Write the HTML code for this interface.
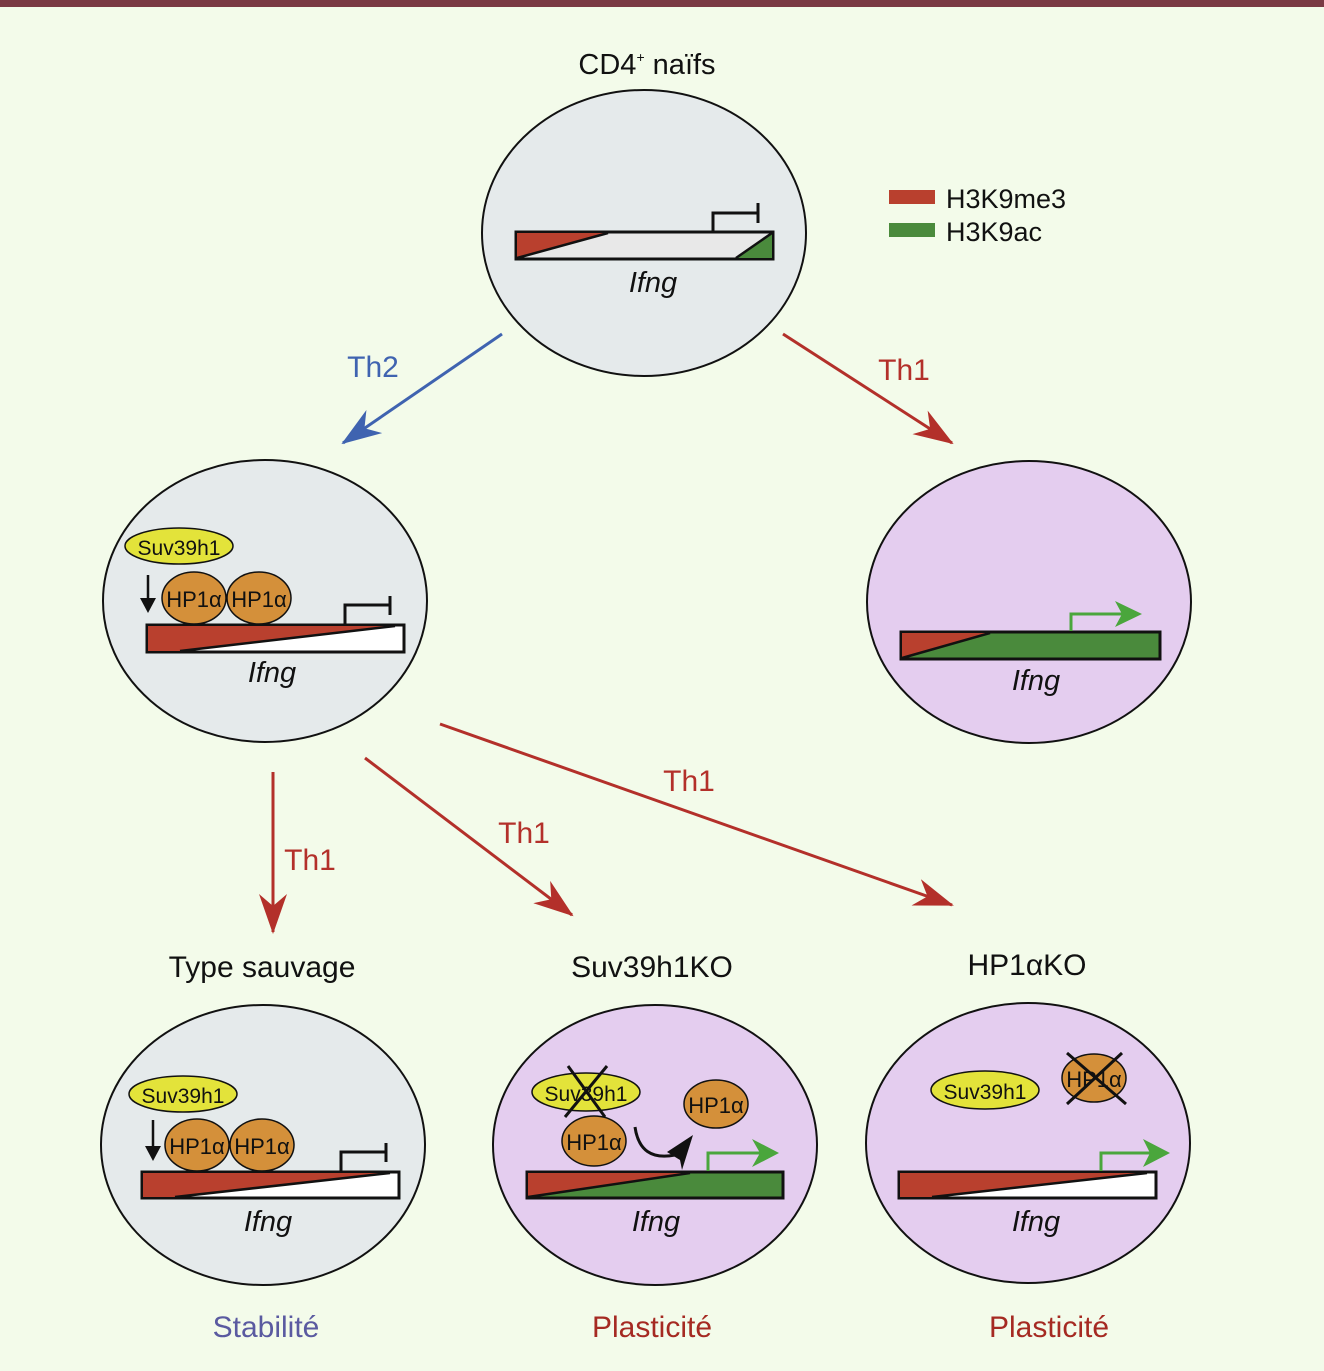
<!DOCTYPE html>
<html><head><meta charset="utf-8"><style>
html,body{margin:0;padding:0;background:#f3fbea;}
svg{display:block}
text{font-family:"Liberation Sans",sans-serif;}
</style></head><body>
<svg width="1324" height="1371" viewBox="0 0 1324 1371" xmlns="http://www.w3.org/2000/svg">
<defs>
<marker id="ar" markerWidth="40" markerHeight="28" refX="38" refY="14" orient="auto" markerUnits="userSpaceOnUse" viewBox="0 0 40 28"><path d="M0,0 L40,14 L0,28 L12,14z" fill="#b3302a"/></marker>
<marker id="ab" markerWidth="40" markerHeight="28" refX="38" refY="14" orient="auto" markerUnits="userSpaceOnUse" viewBox="0 0 40 28"><path d="M0,0 L40,14 L0,28 L12,14z" fill="#3f63b0"/></marker>
</defs>
<rect x="0" y="0" width="1324" height="1371" fill="#f3fbea"/>
<rect x="0" y="0" width="1324" height="7" fill="#7a3a44"/>

<!-- top cell -->
<text x="647" y="74" font-size="29" text-anchor="middle" fill="#111">CD4<tspan font-size="14" dy="-12">+</tspan><tspan dy="12"> naïfs</tspan></text>
<ellipse cx="644" cy="233" rx="162" ry="143" fill="#e5eaeb" stroke="#111" stroke-width="2"/>
<rect x="516" y="232" width="257" height="27" fill="#e8e8e8" stroke="#111" stroke-width="3"/>
<polygon points="517,233 608,233 517,258" fill="#b9402e"/>
<line x1="517" y1="258" x2="608" y2="233" stroke="#111" stroke-width="2.5"/>
<polygon points="772,233 772,258 736,258" fill="#4a8a3c"/>
<line x1="736" y1="258" x2="772" y2="233" stroke="#111" stroke-width="2.5"/>
<polyline points="713,232 713,213 758,213" fill="none" stroke="#111" stroke-width="3"/>
<line x1="758" y1="203" x2="758" y2="223" stroke="#111" stroke-width="3"/>
<text x="653" y="292" font-size="29" font-style="italic" text-anchor="middle" fill="#111">Ifng</text>

<!-- legend -->
<rect x="889" y="190" width="46" height="14" fill="#b9402e"/>
<rect x="889" y="223" width="46" height="14" fill="#4a8a3c"/>
<text x="946" y="208" font-size="27" fill="#111">H3K9me3</text>
<text x="946" y="241" font-size="27" fill="#111">H3K9ac</text>

<!-- arrows -->
<line x1="502" y1="334" x2="343" y2="443" stroke="#3f63b0" stroke-width="3" marker-end="url(#ab)"/>
<text x="373" y="377" font-size="30" text-anchor="middle" fill="#3f63b0">Th2</text>
<line x1="783" y1="334" x2="952" y2="443" stroke="#b3302a" stroke-width="3" marker-end="url(#ar)"/>
<text x="904" y="380" font-size="30" text-anchor="middle" fill="#b3302a">Th1</text>
<line x1="273" y1="772" x2="273" y2="932" stroke="#b3302a" stroke-width="3" marker-end="url(#ar)"/>
<text x="310" y="870" font-size="30" text-anchor="middle" fill="#b3302a">Th1</text>
<line x1="365" y1="758" x2="572" y2="915" stroke="#b3302a" stroke-width="3" marker-end="url(#ar)"/>
<text x="524" y="843" font-size="30" text-anchor="middle" fill="#b3302a">Th1</text>
<line x1="440" y1="724" x2="952" y2="905" stroke="#b3302a" stroke-width="3" marker-end="url(#ar)"/>
<text x="689" y="791" font-size="30" text-anchor="middle" fill="#b3302a">Th1</text>

<!-- Th2 cell -->
<ellipse cx="265" cy="601" rx="162" ry="141" fill="#e5eaeb" stroke="#111" stroke-width="2"/>
<rect x="147" y="625" width="257" height="27" fill="#fff" stroke="#111" stroke-width="3"/>
<polygon points="148,626 395,626 180,651 148,651" fill="#b9402e"/>
<line x1="180" y1="651" x2="395" y2="626" stroke="#111" stroke-width="2.5"/>
<polyline points="345,625 345,605 390,605" fill="none" stroke="#111" stroke-width="3"/>
<line x1="390" y1="596" x2="390" y2="615" stroke="#111" stroke-width="3"/>
<ellipse cx="179" cy="546" rx="54" ry="18" fill="#e3e33a" stroke="#111" stroke-width="1.5"/>
<text x="179" y="555" font-size="21" text-anchor="middle" fill="#111">Suv39h1</text>
<line x1="148" y1="575" x2="148" y2="600" stroke="#111" stroke-width="2.5"/>
<polygon points="140,598 156,598 148,613" fill="#111"/>
<ellipse cx="194" cy="598" rx="32" ry="26" fill="#d4903a" stroke="#111" stroke-width="1.5"/>
<ellipse cx="259" cy="598" rx="32" ry="26" fill="#d4903a" stroke="#111" stroke-width="1.5"/>
<text x="194" y="607" font-size="22" text-anchor="middle" fill="#111">HP1α</text>
<text x="259" y="607" font-size="22" text-anchor="middle" fill="#111">HP1α</text>
<text x="272" y="682" font-size="29" font-style="italic" text-anchor="middle" fill="#111">Ifng</text>

<!-- Th1 cell -->
<ellipse cx="1029" cy="602" rx="162" ry="141" fill="#e4cdef" stroke="#111" stroke-width="2"/>
<rect x="901" y="632" width="259" height="27" fill="#4a8a3c" stroke="#111" stroke-width="3"/>
<polygon points="902,633 990,633 902,658" fill="#b9402e"/>
<line x1="902" y1="658" x2="990" y2="633" stroke="#111" stroke-width="2.5"/>
<polyline points="1071,631 1071,614 1122,614" fill="none" stroke="#4aa63c" stroke-width="3"/>
<polygon points="1115,601 1142,614 1115,627 1122,614" fill="#4aa63c"/>
<text x="1036" y="690" font-size="29" font-style="italic" text-anchor="middle" fill="#111">Ifng</text>

<!-- bottom titles -->
<text x="262" y="977" font-size="30" text-anchor="middle" fill="#111">Type sauvage</text>
<text x="652" y="977" font-size="30" text-anchor="middle" fill="#111">Suv39h1KO</text>
<text x="1027" y="975" font-size="30" text-anchor="middle" fill="#111">HP1αKO</text>

<!-- bottom left -->
<ellipse cx="263" cy="1145" rx="162" ry="140" fill="#e5eaeb" stroke="#111" stroke-width="2"/>
<rect x="142" y="1172" width="257" height="26" fill="#fff" stroke="#111" stroke-width="3"/>
<polygon points="143,1173 390,1173 175,1197 143,1197" fill="#b9402e"/>
<line x1="175" y1="1197" x2="390" y2="1173" stroke="#111" stroke-width="2.5"/>
<polyline points="341,1172 341,1152 386,1152" fill="none" stroke="#111" stroke-width="3"/>
<line x1="386" y1="1143" x2="386" y2="1162" stroke="#111" stroke-width="3"/>
<ellipse cx="183" cy="1094" rx="54" ry="18" fill="#e3e33a" stroke="#111" stroke-width="1.5"/>
<text x="183" y="1103" font-size="21" text-anchor="middle" fill="#111">Suv39h1</text>
<line x1="153" y1="1120" x2="153" y2="1148" stroke="#111" stroke-width="2.5"/>
<polygon points="145,1146 161,1146 153,1161" fill="#111"/>
<ellipse cx="197" cy="1145" rx="32" ry="26" fill="#d4903a" stroke="#111" stroke-width="1.5"/>
<ellipse cx="262" cy="1145" rx="32" ry="26" fill="#d4903a" stroke="#111" stroke-width="1.5"/>
<text x="197" y="1154" font-size="22" text-anchor="middle" fill="#111">HP1α</text>
<text x="262" y="1154" font-size="22" text-anchor="middle" fill="#111">HP1α</text>
<text x="268" y="1231" font-size="29" font-style="italic" text-anchor="middle" fill="#111">Ifng</text>

<!-- bottom middle -->
<ellipse cx="655" cy="1145" rx="162" ry="140" fill="#e4cdef" stroke="#111" stroke-width="2"/>
<rect x="527" y="1172" width="256" height="26" fill="#4a8a3c" stroke="#111" stroke-width="3"/>
<polygon points="528,1173 690,1173 528,1197" fill="#b9402e"/>
<line x1="528" y1="1197" x2="690" y2="1173" stroke="#111" stroke-width="2.5"/>
<polyline points="708,1171 708,1153 760,1153" fill="none" stroke="#4aa63c" stroke-width="3"/>
<polygon points="752,1139 779,1153 752,1167 760,1153" fill="#4aa63c"/>
<ellipse cx="586" cy="1092" rx="54" ry="19" fill="#e3e33a" stroke="#111" stroke-width="1.5"/>
<text x="586" y="1101" font-size="21" text-anchor="middle" fill="#111">Suv39h1</text>
<line x1="568" y1="1066" x2="605" y2="1117" stroke="#111" stroke-width="3"/>
<line x1="607" y1="1066" x2="565" y2="1117" stroke="#111" stroke-width="3"/>
<ellipse cx="594" cy="1141" rx="32" ry="25" fill="#d4903a" stroke="#111" stroke-width="1.5"/>
<text x="594" y="1150" font-size="22" text-anchor="middle" fill="#111">HP1α</text>
<ellipse cx="716" cy="1104" rx="32" ry="24" fill="#d4903a" stroke="#111" stroke-width="1.5"/>
<text x="716" y="1113" font-size="22" text-anchor="middle" fill="#111">HP1α</text>
<path d="M635,1127 Q640,1162 675,1155" fill="none" stroke="#111" stroke-width="3"/>
<polygon points="693,1135 682,1170 680,1160 667,1152" fill="#111"/>
<text x="656" y="1231" font-size="29" font-style="italic" text-anchor="middle" fill="#111">Ifng</text>

<!-- bottom right -->
<ellipse cx="1028" cy="1143" rx="162" ry="140" fill="#e4cdef" stroke="#111" stroke-width="2"/>
<rect x="899" y="1172" width="257" height="26" fill="#fff" stroke="#111" stroke-width="3"/>
<polygon points="900,1173 1147,1173 932,1197 900,1197" fill="#b9402e"/>
<line x1="932" y1="1197" x2="1147" y2="1173" stroke="#111" stroke-width="2.5"/>
<polyline points="1101,1171 1101,1153 1150,1153" fill="none" stroke="#4aa63c" stroke-width="3"/>
<polygon points="1143,1139 1170,1153 1143,1167 1150,1153" fill="#4aa63c"/>
<ellipse cx="985" cy="1090" rx="54" ry="19" fill="#e3e33a" stroke="#111" stroke-width="1.5"/>
<text x="985" y="1099" font-size="21" text-anchor="middle" fill="#111">Suv39h1</text>
<ellipse cx="1094" cy="1078" rx="32" ry="24" fill="#d4903a" stroke="#111" stroke-width="1.5"/>
<text x="1094" y="1087" font-size="22" text-anchor="middle" fill="#111">HP1α</text>
<line x1="1067" y1="1053" x2="1126" y2="1104" stroke="#111" stroke-width="3"/>
<line x1="1122" y1="1053" x2="1067" y2="1104" stroke="#111" stroke-width="3"/>
<text x="1036" y="1231" font-size="29" font-style="italic" text-anchor="middle" fill="#111">Ifng</text>

<!-- outcome labels -->
<text x="266" y="1337" font-size="30" text-anchor="middle" fill="#5a5aa0">Stabilité</text>
<text x="652" y="1337" font-size="30" text-anchor="middle" fill="#a52a22">Plasticité</text>
<text x="1049" y="1337" font-size="30" text-anchor="middle" fill="#a52a22">Plasticité</text>
</svg>
</body></html>
